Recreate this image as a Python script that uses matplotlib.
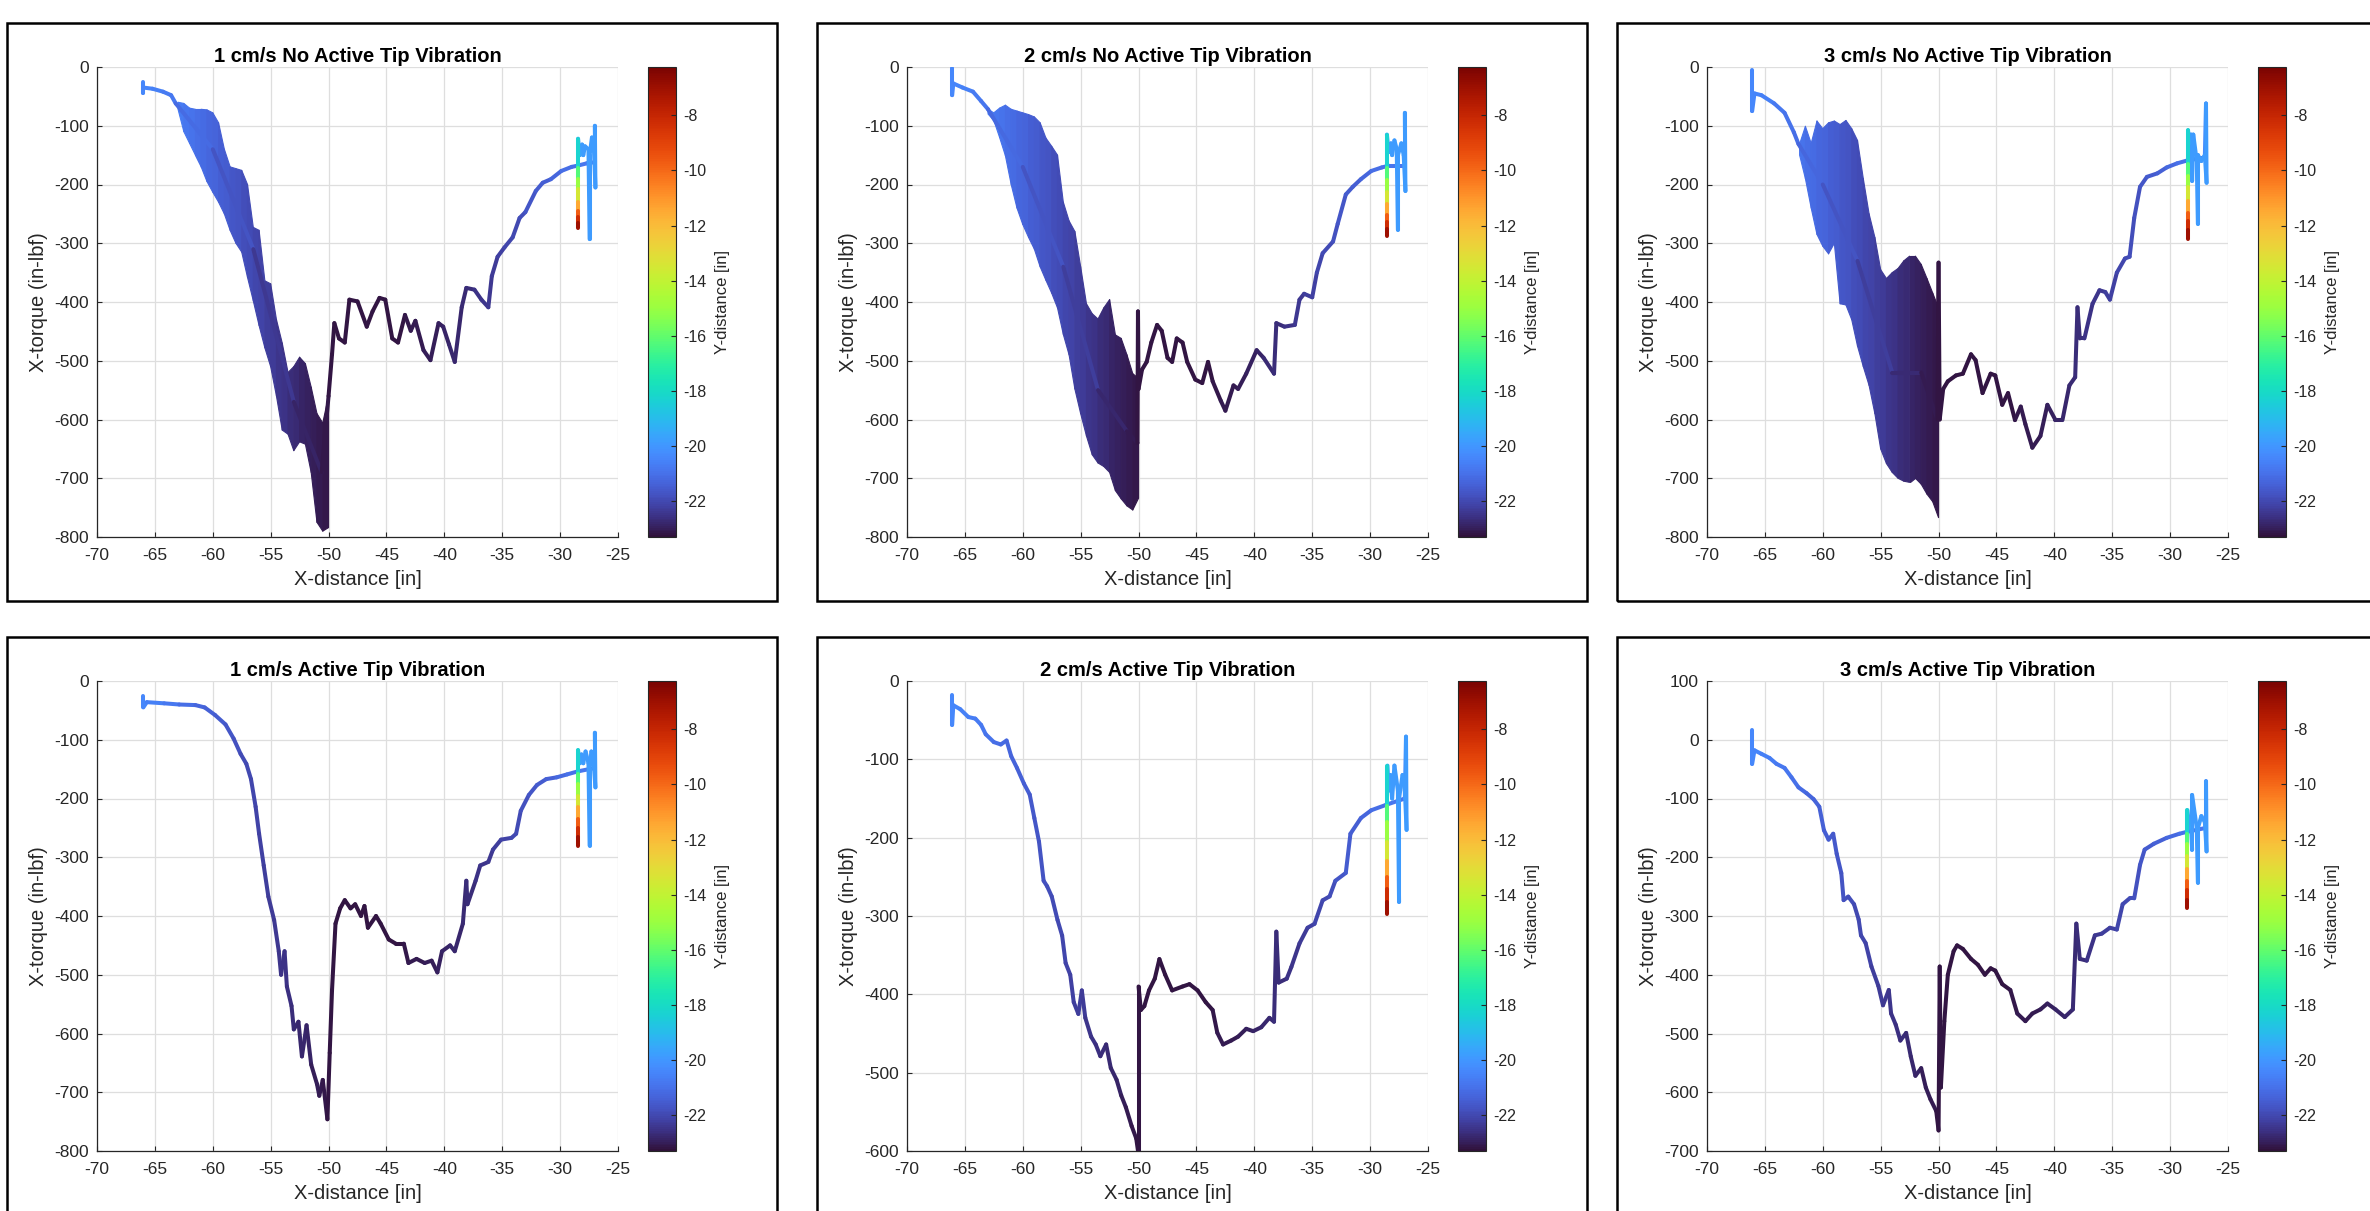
import numpy as np
import matplotlib

matplotlib.use("Agg")

import matplotlib.pyplot as plt
from matplotlib.collections import LineCollection, PolyCollection
from matplotlib.colors import Normalize
from matplotlib.cm import ScalarMappable
from matplotlib.patches import Rectangle

plt.rcParams.update(
    {
        "font.family": ["Liberation Sans", "DejaVu Sans"],
        "axes.unicode_minus": False,
        "text.color": "#262626",
        "xtick.color": "#262626",
        "ytick.color": "#262626",
        "axes.edgecolor": "#262626",
        "axes.labelcolor": "#262626",
    }
)

W, H = 2370, 1211
TEXT_DARK = "#262626"
GRID = "#dedede"
CMAP = plt.get_cmap("turbo")
NORM = Normalize(vmin=-23.3, vmax=-6.25)

TITLES = [
    "1 cm/s No Active Tip Vibration",
    "2 cm/s No Active Tip Vibration",
    "3 cm/s No Active Tip Vibration",
    "1 cm/s Active Tip Vibration",
    "2 cm/s Active Tip Vibration",
    "3 cm/s Active Tip Vibration",
]
YLIMS = [(-800, 0), (-800, 0), (-800, 0), (-800, 0), (-600, 0), (-700, 100)]
X_TICKS = [-70, -65, -60, -55, -50, -45, -40, -35, -30, -25]
CBAR_TICKS = [-22, -20, -18, -16, -14, -12, -10, -8]

# ---- 1 cm/s, no vibration ----
TL_X = [-66.0, -66.0, -66.0, -65.2, -64.3, -63.6, -63.2, -60.0, -56.5, -53.0,
        -50.6, -50.0, -49.7, -49.5, -49.1, -48.6, -48.2, -47.5, -46.7, -46.2,
        -45.6, -45.1, -44.5, -44.0, -43.4, -42.9, -42.5, -41.8, -41.2, -40.5,
        -40.1, -39.6, -39.1, -38.5, -38.1, -37.4, -36.8, -36.2, -35.9, -35.4,
        -34.8, -34.1, -33.5, -33.0, -32.1, -31.5, -30.8, -29.9, -29.0, -28.5,
        -27.7, -27.0]
TL_TQ = [-25, -44, -35, -37, -42, -48, -62, -140, -310, -570,
         -690, -560, -489, -436, -462, -469, -396, -399, -442, -416,
         -393, -396, -462, -469, -422, -449, -432, -482, -499, -436,
         -442, -472, -502, -409, -376, -379, -396, -409, -356, -323,
         -307, -290, -257, -247, -211, -197, -191, -177, -170, -168,
         -164, -162]
TL_YD = [-20.4, -20.4, -20.4, -20.55, -20.7, -20.8, -20.85, -21.45, -22.05, -22.7,
         -23.1, -23.2, -23.2, -23.2, -23.2, -23.2, -23.2, -23.2, -23.2, -23.2,
         -23.2, -23.2, -23.2, -23.2, -23.15, -23.1, -23.1, -23.05, -23.0, -22.95,
         -22.9, -22.85, -22.8, -22.75, -22.7, -22.6, -22.5, -22.4, -22.35, -22.3,
         -22.15, -22.05, -21.9, -21.8, -21.6, -21.5, -21.4, -21.2, -21.0, -20.95,
         -20.85, -20.8]
TL_END_X = [-27.0, -26.95, -27.1, -27.25, -27.45, -27.45, -27.55, -27.85, -28.0, -28.1,
            -28.3, -28.45, -28.45, -28.45, -28.45, -28.45, -28.45, -28.45, -28.45, -28.45]
TL_END_TQ = [-100, -205, -130, -120, -150, -293, -140, -135, -150, -132,
             -150, -122, -172, -190, -207, -230, -245, -255, -265, -274]
TL_BAND_X = [-63.0, -62.5, -62.0, -61.5, -61.0, -60.5, -60.0, -59.5, -59.0, -58.5,
             -58.0, -57.5, -57.0, -56.5, -56.0, -55.5, -55.0, -54.5, -54.0, -53.5,
             -53.0, -52.5, -52.0, -51.5, -51.0, -50.5, -50.0]
TL_BAND_HI = [-60, -62, -70, -72, -72, -73, -78, -95, -140, -170,
              -173, -176, -200, -273, -278, -364, -369, -430, -470, -520,
              -510, -494, -505, -545, -590, -606, -560]
TL_BAND_LO = [-72, -110, -130, -150, -170, -195, -213, -230, -250, -278,
              -300, -315, -358, -398, -440, -478, -510, -560, -618, -625,
              -653, -638, -642, -690, -775, -790, -784]

# ---- 2 cm/s, no vibration ----
TM_X = [-66.1, -66.1, -66.0, -65.2, -64.3, -63.6, -63.0, -60.0, -56.5, -53.5,
        -51.0, -50.1, -50.05, -50.0, -49.7, -49.3, -48.9, -48.4, -48.0, -47.5,
        -47.1, -46.7, -46.2, -45.8, -45.1, -44.5, -44.0, -43.6, -42.9, -42.5,
        -41.8, -41.4, -40.7, -39.8, -39.2, -38.3, -38.1, -37.4, -36.5, -36.1,
        -35.7, -35.0, -34.6, -34.1, -33.2, -32.8, -32.1, -31.5, -30.8, -29.9,
        -29.0, -28.4, -27.0]
TM_TQ = [-2, -48, -28, -35, -42, -58, -72, -170, -340, -550,
         -620, -640, -416, -548, -515, -502, -469, -439, -449, -495,
         -502, -462, -469, -502, -532, -538, -502, -535, -568, -585,
         -542, -548, -522, -482, -495, -522, -436, -442, -439, -396,
         -386, -392, -350, -317, -297, -267, -217, -204, -191, -177,
         -171, -168, -168]
TM_YD = [-20.4, -20.4, -20.4, -20.55, -20.7, -20.8, -20.9, -21.45, -22.05, -22.55,
         -23.0, -23.15, -23.2, -23.2, -23.2, -23.2, -23.2, -23.2, -23.2, -23.2,
         -23.2, -23.2, -23.2, -23.2, -23.2, -23.2, -23.2, -23.15, -23.1, -23.1,
         -23.1, -23.0, -22.95, -22.9, -22.8, -22.7, -22.7, -22.6, -22.45, -22.4,
         -22.35, -22.25, -22.15, -22.05, -21.8, -21.75, -21.6, -21.5, -21.4, -21.2,
         -21.0, -20.95, -20.8]
TM_END_X = [-27.0, -26.95, -27.1, -27.3, -27.6, -27.6, -27.7, -27.9, -28.1, -28.2,
            -28.4, -28.55, -28.55, -28.55, -28.55, -28.55, -28.55, -28.55, -28.55, -28.55]
TM_END_TQ = [-78, -211, -150, -130, -150, -277, -140, -125, -150, -130,
             -145, -115, -172, -192, -212, -234, -252, -264, -276, -287]
TM_BAND_X = [-63.0, -62.5, -62.0, -61.5, -61.0, -60.5, -60.0, -59.5, -59.0, -58.5,
             -58.0, -57.5, -57.0, -56.5, -56.0, -55.5, -55.0, -54.5, -54.0, -53.5,
             -53.0, -52.5, -52.0, -51.5, -51.0, -50.5, -50.0]
TM_BAND_HI = [-72, -78, -70, -65, -72, -75, -78, -81, -85, -95,
              -121, -135, -150, -230, -262, -280, -340, -403, -420, -429,
              -410, -396, -456, -462, -490, -522, -530]
TM_BAND_LO = [-80, -91, -120, -151, -200, -240, -268, -290, -310, -340,
              -363, -385, -410, -455, -490, -548, -590, -628, -660, -674,
              -680, -690, -721, -735, -747, -754, -734]

# ---- 3 cm/s, no vibration ----
TR_X = [-66.1, -66.1, -65.9, -65.3, -64.2, -63.3, -62.5, -62.1, -60.0, -57.0,
        -54.0, -51.5, -50.1, -50.0, -49.9, -49.6, -49.2, -48.5, -47.9, -47.2,
        -46.8, -46.2, -45.5, -45.1, -44.5, -44.0, -43.4, -42.9, -42.5, -41.9,
        -41.2, -40.6, -39.9, -39.3, -38.7, -38.2, -38.0, -37.8, -37.4, -36.7,
        -36.1, -35.6, -35.2, -34.6, -33.9, -33.5, -33.1, -32.6, -32.0, -31.1,
        -30.3, -29.4, -28.5, -27.0]
TR_TQ = [-5, -75, -45, -48, -62, -78, -111, -131, -200, -330,
         -520, -520, -600, -333, -600, -548, -535, -525, -522, -489,
         -499, -555, -522, -525, -575, -555, -601, -578, -608, -648,
         -628, -575, -601, -601, -542, -528, -409, -462, -462, -403,
         -380, -383, -396, -350, -326, -323, -257, -204, -187, -181,
         -171, -164, -159, -154]
TR_YD = [-20.4, -20.4, -20.4, -20.5, -20.7, -20.85, -21.0, -21.1, -21.45, -22.0,
         -22.5, -22.95, -23.15, -23.2, -23.2, -23.2, -23.2, -23.2, -23.2, -23.2,
         -23.2, -23.2, -23.2, -23.2, -23.2, -23.2, -23.15, -23.1, -23.1, -23.1,
         -23.0, -22.95, -22.9, -22.85, -22.75, -22.7, -22.7, -22.7, -22.6, -22.5,
         -22.4, -22.35, -22.25, -22.15, -21.95, -21.9, -21.8, -21.75, -21.6, -21.45,
         -21.3, -21.1, -20.95, -20.8]
TR_END_X = [-26.9, -26.85, -27.0, -27.3, -27.6, -27.6, -27.7, -28.0, -28.1, -28.2,
            -28.35, -28.45, -28.45, -28.45, -28.45, -28.45, -28.45, -28.45, -28.45, -28.45]
TR_END_TQ = [-62, -197, -150, -160, -150, -267, -160, -115, -194, -115,
             -130, -108, -165, -185, -205, -228, -248, -262, -278, -293]
TR_BAND_X = [-62.0, -61.5, -61.0, -60.5, -60.0, -59.5, -59.0, -58.5, -58.0, -57.5,
             -57.0, -56.5, -56.0, -55.5, -55.0, -54.5, -54.0, -53.5, -53.0, -52.5,
             -52.0, -51.5, -51.0, -50.5, -50.0]
TR_BAND_HI = [-131, -101, -130, -92, -105, -95, -92, -98, -91, -105,
              -125, -190, -250, -290, -345, -360, -350, -343, -330, -322,
              -322, -336, -360, -385, -410]
TR_BAND_LO = [-150, -190, -240, -285, -305, -318, -300, -403, -405, -430,
              -475, -510, -542, -590, -650, -675, -690, -700, -705, -707,
              -700, -710, -727, -740, -767]

# ---- 1 cm/s, active vibration ----
BL_X = [-66.0, -66.0, -65.7, -64.2, -62.9, -61.5, -60.7, -59.8, -58.9, -58.2,
        -57.6, -57.1, -56.7, -56.3, -56.0, -55.6, -55.2, -54.7, -54.3, -54.1,
        -53.8, -53.6, -53.2, -53.0, -52.6, -52.3, -51.9, -51.5, -51.0, -50.8,
        -50.5, -50.1, -49.9, -49.7, -49.4, -49.0, -48.6, -48.1, -47.7, -47.2,
        -46.9, -46.6, -45.9, -45.5, -44.8, -44.2, -43.5, -43.1, -42.4, -41.7,
        -41.1, -40.6, -40.2, -39.5, -39.1, -38.4, -38.1, -38.0, -37.3, -36.9,
        -36.2, -35.8, -35.1, -34.2, -33.8, -33.4, -32.7, -32.0, -31.2, -30.3,
        -29.4, -28.5, -27.0]
BL_TQ = [-25, -45, -36, -38, -40, -41, -45, -58, -74, -98,
         -124, -141, -167, -214, -260, -314, -367, -407, -460, -500,
         -460, -520, -553, -593, -580, -639, -586, -653, -686, -706,
         -679, -746, -633, -526, -413, -387, -373, -387, -380, -400,
         -383, -420, -400, -413, -440, -447, -447, -480, -473, -480,
         -476, -496, -460, -450, -460, -413, -340, -380, -340, -314,
         -308, -287, -270, -267, -260, -221, -194, -177, -167, -164,
         -159, -154, -148]
BL_YD = [-20.4, -20.4, -20.45, -20.7, -20.9, -21.2, -21.35, -21.45, -21.6, -21.75,
         -21.9, -22.0, -22.05, -22.1, -22.15, -22.2, -22.3, -22.35, -22.45, -22.5,
         -22.55, -22.55, -22.65, -22.7, -22.8, -22.8, -22.85, -22.95, -23.0, -23.05,
         -23.1, -23.15, -23.2, -23.2, -23.2, -23.2, -23.2, -23.2, -23.2, -23.2,
         -23.2, -23.2, -23.2, -23.2, -23.2, -23.2, -23.15, -23.1, -23.1, -23.0,
         -23.0, -22.95, -22.9, -22.85, -22.8, -22.75, -22.7, -22.7, -22.6, -22.5,
         -22.4, -22.35, -22.25, -22.05, -21.95, -21.9, -21.75, -21.6, -21.45, -21.3,
         -21.1, -20.95, -20.8]
BL_END_X = [-27.0, -26.95, -27.1, -27.3, -27.45, -27.45, -27.55, -27.8, -28.0, -28.15,
            -28.3, -28.45, -28.45, -28.45, -28.45, -28.45, -28.45, -28.45, -28.45, -28.45]
BL_END_TQ = [-88, -181, -140, -120, -150, -280, -140, -120, -140, -125,
             -140, -118, -158, -175, -195, -215, -235, -250, -265, -280]

# ---- 2 cm/s, active vibration ----
BM_X = [-66.1, -66.1, -66.0, -65.4, -64.7, -64.1, -63.6, -63.2, -62.5, -61.9,
        -61.4, -61.0, -60.5, -59.9, -59.4, -59.0, -58.6, -58.2, -57.9, -57.5,
        -57.0, -56.6, -56.3, -55.9, -55.6, -55.2, -54.9, -54.6, -54.1, -53.7,
        -53.3, -52.8, -52.4, -51.9, -51.5, -51.1, -50.6, -50.2, -50.0, -50.0,
        -49.8, -49.5, -49.1, -48.6, -48.2, -47.7, -47.1, -46.2, -45.6, -44.9,
        -44.2, -43.6, -43.2, -42.7, -42.0, -41.4, -40.7, -40.1, -39.4, -38.7,
        -38.3, -38.1, -37.9, -37.2, -36.8, -36.1, -35.4, -34.8, -34.1, -33.5,
        -33.0, -32.1, -31.7, -30.8, -29.9, -28.6, -27.0]
BM_TQ = [-18, -56, -31, -36, -46, -48, -56, -68, -78, -81,
         -76, -96, -111, -131, -145, -175, -205, -255, -262, -275,
         -305, -325, -360, -375, -410, -425, -395, -430, -454, -464,
         -479, -464, -494, -509, -529, -544, -568, -584, -605, -390,
         -420, -415, -395, -380, -355, -375, -395, -390, -387, -395,
         -410, -420, -449, -464, -459, -454, -444, -447, -442, -430,
         -435, -320, -385, -380, -365, -335, -315, -310, -280, -275,
         -255, -245, -195, -175, -165, -158, -150]
BM_YD = [-20.4, -20.4, -20.4, -20.5, -20.65, -20.7, -20.8, -20.85, -21.0, -21.1,
         -21.2, -21.3, -21.4, -21.45, -21.55, -21.6, -21.7, -21.75, -21.8, -21.9,
         -22.0, -22.05, -22.1, -22.15, -22.2, -22.3, -22.3, -22.4, -22.5, -22.55,
         -22.65, -22.7, -22.8, -22.85, -22.95, -23.0, -23.1, -23.15, -23.2, -23.2,
         -23.2, -23.2, -23.2, -23.2, -23.2, -23.2, -23.2, -23.2, -23.2, -23.2,
         -23.2, -23.15, -23.1, -23.1, -23.1, -23.0, -22.95, -22.9, -22.85, -22.75,
         -22.7, -22.7, -22.7, -22.6, -22.5, -22.4, -22.25, -22.15, -22.05, -21.9,
         -21.8, -21.6, -21.5, -21.4, -21.2, -20.95, -20.8]
BM_END_X = [-26.9, -26.85, -27.0, -27.2, -27.5, -27.5, -27.6, -27.9, -28.1, -28.25,
            -28.4, -28.5, -28.5, -28.5, -28.5, -28.5, -28.5, -28.5, -28.5, -28.5]
BM_END_TQ = [-71, -190, -140, -120, -150, -282, -140, -108, -150, -120,
             -140, -108, -160, -180, -205, -230, -250, -265, -282, -297]

# ---- 3 cm/s, active vibration ----
BR_X = [-66.1, -66.1, -65.9, -65.3, -64.6, -64.0, -63.3, -62.7, -62.1, -61.4,
        -60.8, -60.3, -59.9, -59.5, -59.1, -58.8, -58.4, -58.2, -57.8, -57.3,
        -56.9, -56.7, -56.3, -55.8, -55.2, -54.8, -54.3, -54.1, -53.7, -53.3,
        -52.8, -52.4, -52.0, -51.5, -51.1, -50.7, -50.2, -50.0, -49.9, -49.8,
        -49.5, -49.2, -48.7, -48.4, -47.9, -47.2, -46.6, -46.0, -45.5, -45.1,
        -44.5, -43.8, -43.2, -42.5, -41.9, -41.2, -40.6, -39.9, -39.1, -38.4,
        -38.1, -37.8, -37.2, -36.5, -35.9, -35.2, -34.6, -34.1, -33.5, -33.1,
        -32.6, -32.2, -31.4, -30.3, -29.2, -28.6, -26.9]
BR_TQ = [16, -41, -18, -24, -31, -41, -48, -64, -81, -91,
         -101, -114, -154, -170, -160, -194, -227, -273, -267, -280,
         -306, -333, -346, -386, -419, -452, -426, -466, -485, -512,
         -499, -539, -572, -559, -592, -612, -632, -665, -386, -592,
         -479, -400, -360, -350, -356, -373, -383, -400, -389, -393,
         -416, -426, -466, -479, -466, -459, -449, -459, -472, -459,
         -313, -373, -376, -333, -330, -320, -323, -280, -270, -270,
         -213, -187, -177, -167, -160, -157, -150]
BR_YD = [-20.4, -20.4, -20.4, -20.55, -20.65, -20.75, -20.85, -20.95, -21.1, -21.2,
         -21.3, -21.4, -21.45, -21.5, -21.6, -21.65, -21.7, -21.75, -21.85, -21.95,
         -22.0, -22.05, -22.1, -22.2, -22.3, -22.35, -22.45, -22.5, -22.55, -22.65,
         -22.7, -22.8, -22.85, -22.95, -23.0, -23.05, -23.15, -23.2, -23.2, -23.2,
         -23.2, -23.2, -23.2, -23.2, -23.2, -23.2, -23.2, -23.2, -23.2, -23.2,
         -23.2, -23.15, -23.1, -23.1, -23.1, -23.0, -22.95, -22.9, -22.8, -22.75,
         -22.7, -22.7, -22.6, -22.45, -22.35, -22.25, -22.15, -22.05, -21.9, -21.8,
         -21.75, -21.6, -21.45, -21.3, -21.05, -20.95, -20.8]
BR_END_X = [-26.9, -26.85, -27.0, -27.3, -27.6, -27.6, -27.7, -28.1, -28.1, -28.2,
            -28.35, -28.5, -28.5, -28.5, -28.5, -28.5, -28.5, -28.5, -28.5, -28.5]
BR_END_TQ = [-71, -190, -140, -130, -150, -243, -150, -94, -187, -140,
             -150, -120, -160, -178, -198, -220, -240, -255, -272, -287]

# Y-distance along the closing spikes + lift-off (same sequence in every run)
END_YD = [-19.9, -19.9, -19.9, -19.9, -19.9, -19.9, -19.9, -19.9, -19.9, -19.9,
          -19.9, -19.5, -17.0, -15.5, -14.5, -12.5, -10.5, -9.0, -7.5, -6.5]

# Y-distance across the stick-slip band
BAND_YD_27 = [-20.7, -20.8, -20.9, -21.0, -21.1, -21.2, -21.3, -21.4, -21.5, -21.6,
              -21.7, -21.8, -21.9, -22.0, -22.1, -22.2, -22.3, -22.4, -22.5, -22.6,
              -22.7, -22.8, -22.9, -23.0, -23.05, -23.1, -23.2]
BAND_YD_25 = [-20.9, -21.0, -21.1, -21.2, -21.3, -21.4, -21.5, -21.6, -21.7, -21.8,
              -21.9, -22.0, -22.1, -22.2, -22.3, -22.4, -22.5, -22.6, -22.7, -22.8,
              -22.9, -23.0, -23.05, -23.1, -23.2]

PANELS = [
    (TL_X + TL_END_X, TL_TQ + TL_END_TQ, TL_YD + END_YD, (TL_BAND_X, TL_BAND_HI, TL_BAND_LO, BAND_YD_27)),
    (TM_X + TM_END_X, TM_TQ + TM_END_TQ, TM_YD + END_YD, (TM_BAND_X, TM_BAND_HI, TM_BAND_LO, BAND_YD_27)),
    (TR_X + TR_END_X, TR_TQ + TR_END_TQ, TR_YD + END_YD, (TR_BAND_X, TR_BAND_HI, TR_BAND_LO, BAND_YD_25)),
    (BL_X + BL_END_X, BL_TQ + BL_END_TQ, BL_YD + END_YD, None),
    (BM_X + BM_END_X, BM_TQ + BM_END_TQ, BM_YD + END_YD, None),
    (BR_X + BR_END_X, BR_TQ + BR_END_TQ, BR_YD + END_YD, None),
]

# layout in pixels
COL_AX_LEFT = [97, 907, 1707]
ROW_AX_TOP = [67, 681]
AX_W, AX_H = 521, 470
CB_OFFSET, CB_W = 551, 28
COL_BOX_LEFT = [7, 817, 1617]
ROW_BOX_TOP = [23, 637]
BOX_W = 770
ROW_BOX_H = [578, 620]


def frac_rect(left, top, width, height):
    return [left / W, 1 - (top + height) / H, width / W, height / H]


def draw_path(ax, x, tq, yd):
    pts = np.column_stack([x, tq])
    segs = np.stack([pts[:-1], pts[1:]], axis=1)
    yd = np.asarray(yd, dtype=float)
    lc = LineCollection(segs, cmap=CMAP, norm=NORM, linewidths=2.9,
                        capstyle="round", joinstyle="round", zorder=3)
    lc.set_array((yd[:-1] + yd[1:]) / 2)
    ax.add_collection(lc)


def draw_band(ax, band):
    # stick-slip oscillation drawn as the filled envelope, one quad per step
    bx, hi, lo, yd = (np.asarray(a, dtype=float) for a in band)
    quads = [
        [(bx[k], lo[k]), (bx[k], hi[k]), (bx[k + 1], hi[k + 1]), (bx[k + 1], lo[k + 1])]
        for k in range(len(bx) - 1)
    ]
    colors = CMAP(NORM((yd[:-1] + yd[1:]) / 2))
    pc = PolyCollection(quads, facecolors=colors, edgecolors=colors,
                        linewidths=0.8, zorder=2)
    ax.add_collection(pc)


def style_axes(ax, title, ylim):
    ax.set_xlim(-70, -25)
    ax.set_ylim(*ylim)
    ax.set_xticks(X_TICKS)
    ax.set_yticks(np.arange(ylim[0], ylim[1] + 1, 100))
    ax.grid(True, color=GRID, linewidth=0.9)
    ax.set_axisbelow(True)
    for side in ("top", "right"):
        ax.spines[side].set_visible(False)
    for side in ("left", "bottom"):
        ax.spines[side].set_linewidth(0.9)
    ax.tick_params(direction="in", length=3.5, width=0.8, labelsize=12.5)
    ax.tick_params(axis="x", pad=8)
    ax.tick_params(axis="y", pad=6)
    ax.set_title(title, fontsize=14.5, fontweight="bold", color="black", pad=3.6)
    ax.set_xlabel("X-distance [in]", fontsize=14.5, labelpad=5)
    ax.set_ylabel("X-torque (in-lbf)", fontsize=14.5, labelpad=4)


fig = plt.figure(figsize=(W / 100, H / 100), dpi=100)

for i, (x, tq, yd, band) in enumerate(PANELS):
    row, col = divmod(i, 3)
    ax = fig.add_axes(frac_rect(COL_AX_LEFT[col], ROW_AX_TOP[row], AX_W, AX_H))
    if band is not None:
        draw_band(ax, band)
    draw_path(ax, x, tq, yd)
    style_axes(ax, TITLES[i], YLIMS[i])

    cax = fig.add_axes(frac_rect(COL_AX_LEFT[col] + CB_OFFSET, ROW_AX_TOP[row], CB_W, AX_H))
    cb = fig.colorbar(ScalarMappable(norm=NORM, cmap=CMAP), cax=cax)
    cb.set_ticks(CBAR_TICKS)
    cb.outline.set_linewidth(0.8)
    cb.outline.set_edgecolor(TEXT_DARK)
    cax.tick_params(direction="in", length=3.5, width=0.8, labelsize=11.5, pad=5.5)
    cb.set_label("Y-distance [in]", fontsize=12, labelpad=6)

    box = Rectangle((COL_BOX_LEFT[col] / W, 1 - (ROW_BOX_TOP[row] + ROW_BOX_H[row]) / H),
                    BOX_W / W, ROW_BOX_H[row] / H, transform=fig.transFigure,
                    fill=False, edgecolor="black", linewidth=1.8)
    fig.add_artist(box)

fig.savefig("out.png", dpi=100, facecolor="white")
